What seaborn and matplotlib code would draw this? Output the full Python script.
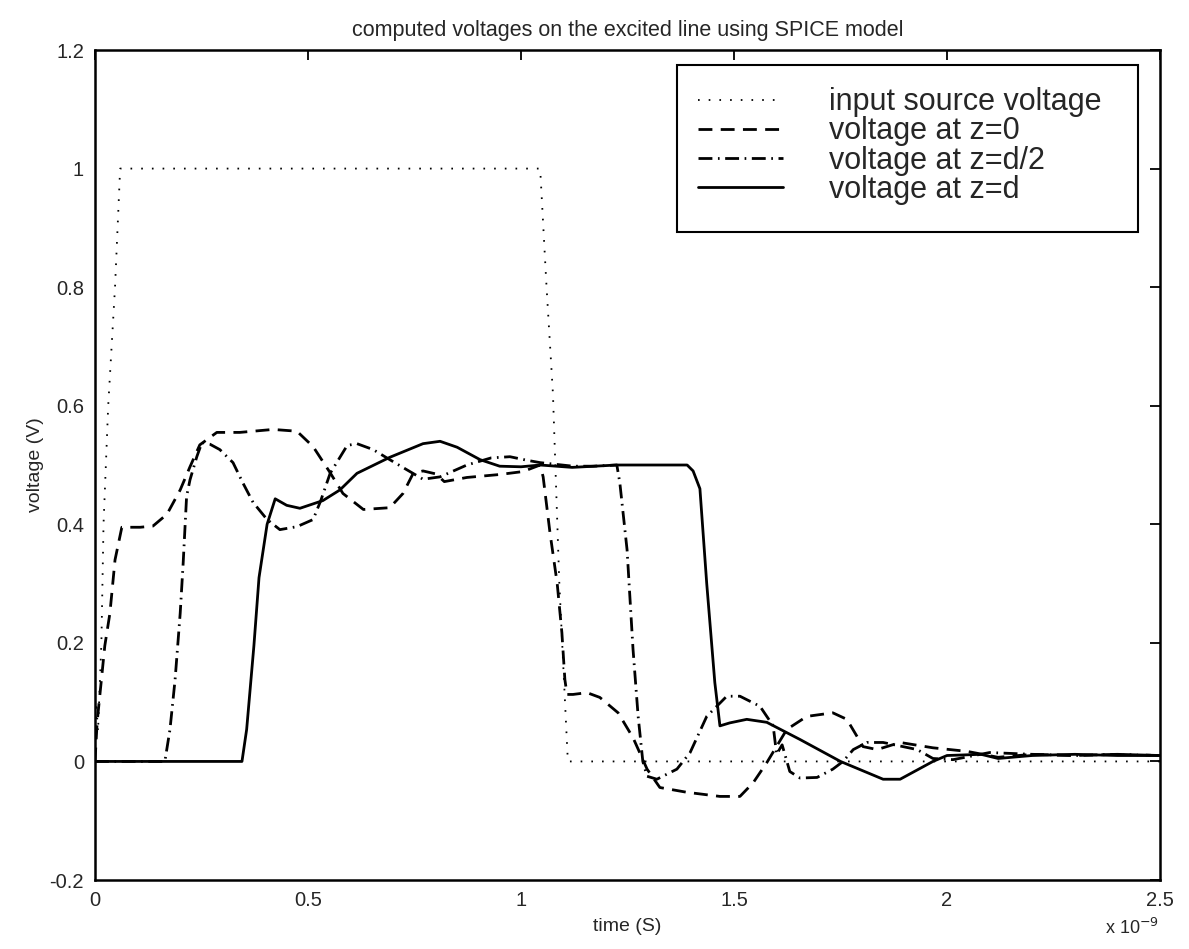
import matplotlib
matplotlib.use("Agg")
import matplotlib.pyplot as plt
from matplotlib.patches import Rectangle
import numpy as np
import pandas as pd
import seaborn as sns

# time axis in units of 1e-9 s, voltages in V
t_src = [0, 0.003, 0.007, 0.015, 0.02, 0.031, 0.047, 0.059, 1.045, 1.06, 1.075, 1.09, 1.11, 2.5]
v_src = [0, 0.1, 0.05, 0.2, 0.4, 0.6, 0.8, 1.0, 1.0, 0.8, 0.62, 0.3, 0.0, 0.0]

t_z0 = [0, 0.005, 0.023, 0.035, 0.047, 0.063, 0.106, 0.136, 0.169, 0.2, 0.223, 0.246,
        0.286, 0.34, 0.418, 0.474, 0.512, 0.552, 0.582, 0.63, 0.692, 0.723, 0.747,
        0.77, 0.80, 0.82, 0.873, 0.95, 1.005, 1.045, 1.052, 1.068, 1.085, 1.096,
        1.103, 1.108, 1.122, 1.155, 1.185, 1.228, 1.263, 1.296, 1.326, 1.389, 1.467,
        1.514, 1.545, 1.577, 1.624, 1.671, 1.732, 1.765, 1.803, 1.836, 1.89, 1.967,
        2.047, 2.12, 2.2, 2.3, 2.4, 2.5]
v_z0 = [0, 0.066, 0.195, 0.25, 0.34, 0.395, 0.395, 0.397, 0.417, 0.458, 0.497, 0.534,
        0.555, 0.555, 0.56, 0.557, 0.531, 0.487, 0.452, 0.425, 0.428, 0.452, 0.486,
        0.49, 0.485, 0.472, 0.479, 0.484, 0.489, 0.50, 0.48, 0.386, 0.30, 0.217,
        0.138, 0.113, 0.113, 0.116, 0.108, 0.082, 0.04, -0.013, -0.044, -0.052, -0.059,
        -0.059, -0.036, -0.002, 0.054, 0.076, 0.082, 0.071, 0.025, 0.02, 0.032, 0.023,
        0.017, 0.007, 0.012, 0.01, 0.012, 0.01]

t_zh = [0, 0.164, 0.176, 0.188, 0.2, 0.207, 0.215, 0.223, 0.239, 0.251, 0.27, 0.293,
        0.324, 0.347, 0.371, 0.404, 0.434, 0.474, 0.512, 0.53, 0.552, 0.592, 0.615,
        0.653, 0.692, 0.732, 0.77, 0.81, 0.873, 0.93, 0.974, 1.014, 1.045, 1.122,
        1.17, 1.225, 1.232, 1.249, 1.263, 1.275, 1.286, 1.296, 1.319, 1.366, 1.397,
        1.436, 1.483, 1.514, 1.561, 1.592, 1.600, 1.613, 1.631, 1.655, 1.695, 1.732,
        1.756, 1.78, 1.812, 1.85, 1.93, 1.967, 2.014, 2.1, 2.2, 2.3, 2.4, 2.5]
v_zh = [0, 0, 0.054, 0.138, 0.25, 0.335, 0.447, 0.475, 0.514, 0.538, 0.535, 0.526,
        0.504, 0.47, 0.437, 0.408, 0.391, 0.396, 0.408, 0.44, 0.486, 0.533, 0.536,
        0.526, 0.509, 0.492, 0.476, 0.48, 0.50, 0.512, 0.514, 0.508, 0.504, 0.498,
        0.498, 0.50, 0.47, 0.357, 0.189, 0.076, 0.0, -0.025, -0.03, -0.013, 0.015,
        0.076, 0.11, 0.11, 0.093, 0.06, 0.012, 0.028, -0.017, -0.028, -0.027, -0.013,
        0.0, 0.02, 0.032, 0.032, 0.02, 0.005, 0.003, 0.015, 0.012, 0.01, 0.012, 0.01]

t_zd = [0, 0.345, 0.356, 0.373, 0.385, 0.404, 0.423, 0.45, 0.481, 0.535, 0.575, 0.615,
        0.692, 0.77, 0.81, 0.85, 0.904, 0.95, 1.0, 1.045, 1.12, 1.225, 1.39, 1.404,
        1.42, 1.436, 1.455, 1.467, 1.49, 1.53, 1.577, 1.655, 1.75, 1.85, 1.89, 1.967,
        2.0, 2.08, 2.12, 2.2, 2.3, 2.4, 2.5]
v_zd = [0, 0, 0.054, 0.195, 0.31, 0.40, 0.443, 0.432, 0.427, 0.44, 0.458, 0.486,
        0.513, 0.536, 0.54, 0.53, 0.509, 0.498, 0.497, 0.50, 0.496, 0.50, 0.50, 0.49,
        0.46, 0.30, 0.133, 0.06, 0.065, 0.071, 0.066, 0.037, 0.0, -0.03, -0.03, 0.0,
        0.01, 0.012, 0.005, 0.01, 0.012, 0.01, 0.01]

labels = ["input source voltage", "voltage at z=0", "voltage at z=d/2", "voltage at z=d"]
x_ticks = [0, 0.5, 1, 1.5, 2, 2.5]
y_ticks = [-0.2, 0, 0.2, 0.4, 0.6, 0.8, 1, 1.2]

sns.set_style("white")
plt.rcParams["font.family"] = ["Liberation Sans", "DejaVu Sans"]
plt.rcParams["lines.scale_dashes"] = False

fig = plt.figure(figsize=(11.89, 9.49), dpi=100)
ax = fig.add_axes([0.0799, 0.0727, 0.8957, 0.8746])

series = [
    (t_src, v_src, (0, (1.2, 6.5)), 1.3),
    (t_z0, v_z0, (0, (10.0, 6.0)), 2.0),
    (t_zh, v_zh, (0, (10.0, 4.0, 1.2, 4.0)), 2.0),
    (t_zd, v_zd, "-", 2.0),
]
handles = []
for (t, v, ls, lw), lab in zip(series, labels):
    df = pd.DataFrame({"t": t, "v": v})
    sns.lineplot(data=df, x="t", y="v", ax=ax, color="black", linestyle=ls,
                 linewidth=lw, estimator=None, sort=False, label=lab, legend=False)
    handles.append(ax.lines[-1])

ax.set_xlim(0, 2.5)
ax.set_ylim(-0.2, 1.2)
ax.set_xticks(x_ticks)
ax.set_xticklabels(["0", "0.5", "1", "1.5", "2", "2.5"])
ax.set_yticks(y_ticks)
ax.set_yticklabels(["-0.2", "0", "0.2", "0.4", "0.6", "0.8", "1", "1.2"])
ax.tick_params(direction="in", length=7, width=1.3, labelsize=14.5, top=True, right=True,
               pad=8, color="black")
for s in ax.spines.values():
    s.set_linewidth(1.8)
    s.set_color("black")

ax.set_xlabel("time (S)", fontsize=14, labelpad=6)
ax.set_ylabel("voltage (V)", fontsize=14, labelpad=4)
ax.set_title("computed voltages on the excited line using SPICE model", fontsize=15.5, pad=10)
fig.text(0.975, 0.012, r"x 10$^{-9}$", ha="right", va="bottom", fontsize=13)

# legend frame drawn separately to match the roomy box of the original
ax.add_patch(Rectangle((0.5465, 0.781), 0.4325, 0.201, transform=ax.transAxes,
                       fill=False, edgecolor="black", linewidth=1.5, zorder=5))
leg = ax.legend(handles, labels, loc="upper left", bbox_to_anchor=(0.566, 0.955),
                frameon=False, fontsize=22, handlelength=2.8, handletextpad=1.5,
                labelspacing=-0.03, borderpad=0, borderaxespad=0)

fig.savefig("out.png", dpi=100, facecolor="white")
